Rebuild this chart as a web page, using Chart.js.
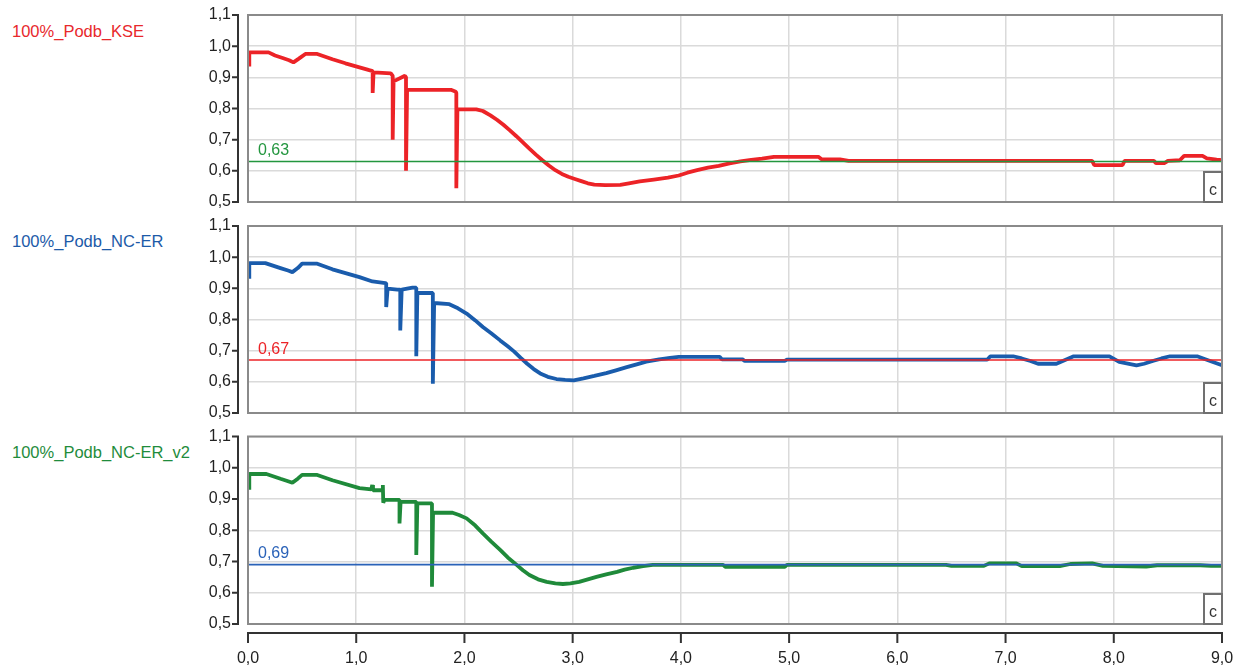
<!DOCTYPE html>
<html>
<head>
<meta charset="utf-8">
<script src="https://cdn.jsdelivr.net/npm/chart.js@4.4.1/dist/chart.umd.min.js"></script>
<style>
  html, body { margin: 0; padding: 0; background: #fff; width: 1243px; height: 671px; overflow: hidden; }
  .panel { position: absolute; left: 0; }
  .name { position: absolute; left: 12px; font: 16.5px "Liberation Sans", Arial, sans-serif; line-height: 16px; white-space: nowrap; }
</style>
</head>
<body>
<div class="name" style="top:23px;color:#e8282c">100%_Podb_KSE</div>
<div class="name" style="top:233px;color:#1c5aa8">100%_Podb_NC-ER</div>
<div class="name" style="top:444px;color:#1f8c3c">100%_Podb_NC-ER_v2</div>

<canvas class="panel" id="p1" width="1243" height="212" style="top:0px"></canvas>
<canvas class="panel" id="p2" width="1243" height="212" style="top:212px"></canvas>
<canvas class="panel" id="p3" width="1243" height="247" style="top:424px"></canvas>

<script>
// ---- time axis (s) and recorded values per signal ----
const kseT = [0.012,0.012,0.19,0.25,0.32,0.38,0.42,0.47,0.53,0.64,0.78,0.90,1.03,1.12,1.152,1.152,1.16,1.32,1.337,1.337,
  1.345,1.45,1.46,1.46,1.47,1.875,1.92,1.925,1.925,1.935,2.11,2.17,2.24,2.30,2.36,2.42,2.48,2.54,2.60,2.66,
  2.72,2.78,2.84,2.90,2.96,3.02,3.08,3.14,3.20,3.30,3.44,3.52,3.62,3.75,3.88,3.98,4.06,4.15,4.25,4.35,
  4.45,4.55,4.65,4.75,4.86,5.27,5.30,5.47,5.55,7.80,7.82,8.08,8.10,8.37,8.39,8.47,8.50,8.61,8.65,8.82,
  8.86,8.95,9.0];
const kseV = [0.935,0.98,0.98,0.97,0.962,0.955,0.948,0.96,0.975,0.975,0.958,0.945,0.932,0.923,0.92,0.85,0.916,0.913,0.905,0.70,
  0.887,0.905,0.90,0.60,0.86,0.86,0.854,0.85,0.544,0.797,0.797,0.792,0.778,0.764,0.748,0.730,0.711,0.691,0.671,0.652,
  0.634,0.617,0.602,0.590,0.581,0.574,0.567,0.560,0.556,0.554,0.555,0.560,0.566,0.572,0.578,0.585,0.594,0.602,0.610,0.616,
  0.624,0.630,0.635,0.639,0.645,0.645,0.637,0.637,0.632,0.632,0.618,0.618,0.632,0.632,0.625,0.625,0.632,0.634,0.648,0.648,
  0.64,0.636,0.634];

const ncerT = [0.012,0.012,0.16,0.30,0.37,0.41,0.46,0.50,0.64,0.78,1.03,1.15,1.27,1.277,1.277,1.29,1.38,1.407,1.407,1.42,
  1.52,1.555,1.555,1.565,1.67,1.708,1.708,1.72,1.86,1.94,2.02,2.10,2.17,2.25,2.33,2.40,2.46,2.52,2.58,2.64,
  2.70,2.77,2.85,2.93,3.01,3.10,3.20,3.31,3.40,3.50,3.60,3.68,3.80,3.90,3.98,4.36,4.38,4.57,4.59,4.96,
  4.98,6.83,6.86,7.07,7.15,7.23,7.30,7.47,7.55,7.63,7.96,8.05,8.21,8.28,8.36,8.44,8.52,8.77,8.89,9.0];
const ncerV = [0.931,0.981,0.981,0.965,0.957,0.952,0.965,0.979,0.979,0.961,0.936,0.922,0.917,0.917,0.84,0.899,0.896,0.896,0.765,0.896,
  0.902,0.902,0.682,0.885,0.885,0.885,0.594,0.853,0.849,0.836,0.819,0.797,0.776,0.755,0.733,0.714,0.697,0.677,0.658,0.641,
  0.627,0.616,0.609,0.606,0.605,0.611,0.619,0.628,0.637,0.647,0.657,0.665,0.672,0.677,0.68,0.68,0.672,0.672,0.667,0.667,
  0.671,0.671,0.682,0.682,0.675,0.667,0.658,0.658,0.670,0.682,0.682,0.664,0.653,0.658,0.667,0.675,0.682,0.682,0.667,0.653];

const ncer2T = [0.012,0.012,0.17,0.30,0.37,0.41,0.46,0.50,0.64,0.78,1.03,1.14,1.148,1.155,1.24,1.246,1.25,1.26,1.38,1.40,
  1.40,1.41,1.52,1.555,1.555,1.565,1.66,1.70,1.70,1.71,1.89,1.95,2.02,2.10,2.17,2.25,2.33,2.40,2.48,2.54,
  2.60,2.68,2.76,2.84,2.91,2.98,3.06,3.14,3.22,3.31,3.41,3.48,3.56,3.65,3.74,4.39,4.41,4.96,4.98,6.45,
  6.50,6.80,6.85,7.10,7.15,7.50,7.60,7.80,7.90,8.30,8.40,8.80,8.90,9.0];
const ncer2V = [0.93,0.98,0.98,0.965,0.957,0.952,0.965,0.977,0.977,0.96,0.935,0.931,0.945,0.928,0.928,0.945,0.888,0.897,0.897,0.897,
  0.822,0.891,0.891,0.891,0.721,0.886,0.886,0.886,0.619,0.856,0.856,0.849,0.838,0.815,0.79,0.763,0.737,0.713,0.690,0.672,
  0.657,0.643,0.635,0.630,0.628,0.630,0.635,0.643,0.651,0.659,0.667,0.674,0.680,0.685,0.689,0.689,0.683,0.683,0.689,0.689,
  0.686,0.686,0.694,0.694,0.685,0.685,0.692,0.694,0.686,0.684,0.688,0.688,0.686,0.686];

// reference levels shown in each panel
const levels = [0.63, 0.67, 0.69];

// axis ticks
const xTickValues = [0,1,2,3,4,5,6,7,8,9];
const yTickValues = [0.5,0.6,0.7,0.8,0.9,1.0,1.1];

const fmt = (v, d) => Number(v).toFixed(d).replace('.', ',');

Chart.defaults.font.family = '"Liberation Sans", Arial, sans-serif';
Chart.defaults.font.size = 16;
Chart.defaults.color = '#222';

const panelDecor = {
  id: 'panelDecor',
  afterDraw(chart, args, o) {
    const { ctx, chartArea: a, scales: { x, y } } = chart;
    ctx.save();
    // plot frame
    ctx.strokeStyle = '#8a8a8a';
    ctx.lineWidth = 2;
    ctx.strokeRect(a.left, a.top, a.right - a.left, a.bottom - a.top);

    // detached value axis with outward ticks
    const ax = a.left - 10;
    ctx.strokeStyle = '#333';
    ctx.lineWidth = 2;
    ctx.beginPath();
    ctx.moveTo(ax, y.getPixelForValue(y.max) - 1);
    ctx.lineTo(ax, y.getPixelForValue(y.min) + 1);
    y.ticks.forEach(t => {
      const py = y.getPixelForValue(t.value);
      ctx.moveTo(ax - 6, py);
      ctx.lineTo(ax, py);
    });
    ctx.stroke();

    // detached time axis (bottom panel only)
    if (o.timeAxis) {
      const ay = a.bottom + 9;
      ctx.beginPath();
      ctx.moveTo(x.getPixelForValue(x.min), ay);
      ctx.lineTo(x.getPixelForValue(x.max), ay);
      x.ticks.forEach(t => {
        const px = x.getPixelForValue(t.value);
        ctx.moveTo(px, ay - 1);
        ctx.lineTo(px, ay + 10);
      });
      ctx.stroke();
    }

    // cursor box in the lower right corner
    const bw = 18, bh = 30;
    ctx.fillStyle = '#fff';
    ctx.fillRect(a.right - bw, a.bottom - bh, bw, bh);
    ctx.strokeStyle = '#707070';
    ctx.lineWidth = 2;
    ctx.strokeRect(a.right - bw, a.bottom - bh, bw, bh);
    ctx.fillStyle = '#333';
    ctx.font = '16px "Liberation Sans", Arial, sans-serif';
    ctx.textAlign = 'center';
    ctx.textBaseline = 'alphabetic';
    ctx.fillText('c', a.right - bw / 2, a.bottom - 7);

    // level caption
    ctx.fillStyle = o.levelColor;
    ctx.textAlign = 'left';
    ctx.fillText(fmt(o.level, 2), a.left + 10, y.getPixelForValue(o.level) - 6.5);
    ctx.restore();
  }
};

function pts(t, v) { return t.map((tt, i) => ({ x: tt, y: v[i] })); }

function makePanel(id, t, v, color, level, levelColor, timeAxis, padTop, padBottom) {
  return new Chart(document.getElementById(id), {
    type: 'line',
    data: {
      datasets: [
        { data: [{ x: 0, y: level }, { x: 9, y: level }], borderColor: levelColor, borderWidth: 1.7,
          pointRadius: 0, tension: 0 },
        { data: pts(t, v), borderColor: color, borderWidth: 3.8, pointRadius: 0, tension: 0,
          borderJoinStyle: 'bevel', borderCapStyle: 'butt' }
      ]
    },
    options: {
      responsive: false,
      devicePixelRatio: 1,
      animation: false,
      events: [],
      layout: { padding: { left: 0, right: 21, top: padTop, bottom: padBottom } },
      plugins: {
        legend: { display: false },
        tooltip: { enabled: false },
        panelDecor: { level: level, levelColor: levelColor, timeAxis: timeAxis }
      },
      scales: {
        x: {
          type: 'linear', min: 0, max: 9,
          afterBuildTicks: s => { s.ticks = xTickValues.map(val => ({ value: val })); },
          afterFit: s => {
            s.height = timeAxis ? 47 : 0;
            s.paddingLeft = 0; s.paddingRight = 0; s.paddingTop = 0; s.paddingBottom = 0;
          },
          grid: { color: '#dadada', lineWidth: 1.5, drawTicks: false },
          border: { display: false },
          ticks: { display: timeAxis, padding: 25, color: '#222', callback: val => fmt(val, 1) }
        },
        y: {
          min: 0.5, max: 1.1,
          afterBuildTicks: s => { s.ticks = yTickValues.map(val => ({ value: val })); },
          afterFit: s => {
            s.width = 248;
            s.paddingLeft = 0; s.paddingRight = 0; s.paddingTop = 0; s.paddingBottom = 0;
          },
          grid: { color: '#dadada', lineWidth: 1.5, drawTicks: false },
          border: { display: false },
          ticks: { padding: 17, color: '#222', callback: val => fmt(val, 1) }
        }
      }
    },
    plugins: [panelDecor]
  });
}

makePanel('p1', kseT, kseV, '#ec2327', levels[0], '#23963f', false, 15, 10);
makePanel('p2', ncerT, ncerV, '#1a5cac', levels[1], '#ec2327', false, 14, 11);
makePanel('p3', ncer2T, ncer2V, '#1f8a3a', levels[2], '#2a62b8', true, 12.5, 0);
</script>
</body>
</html>
